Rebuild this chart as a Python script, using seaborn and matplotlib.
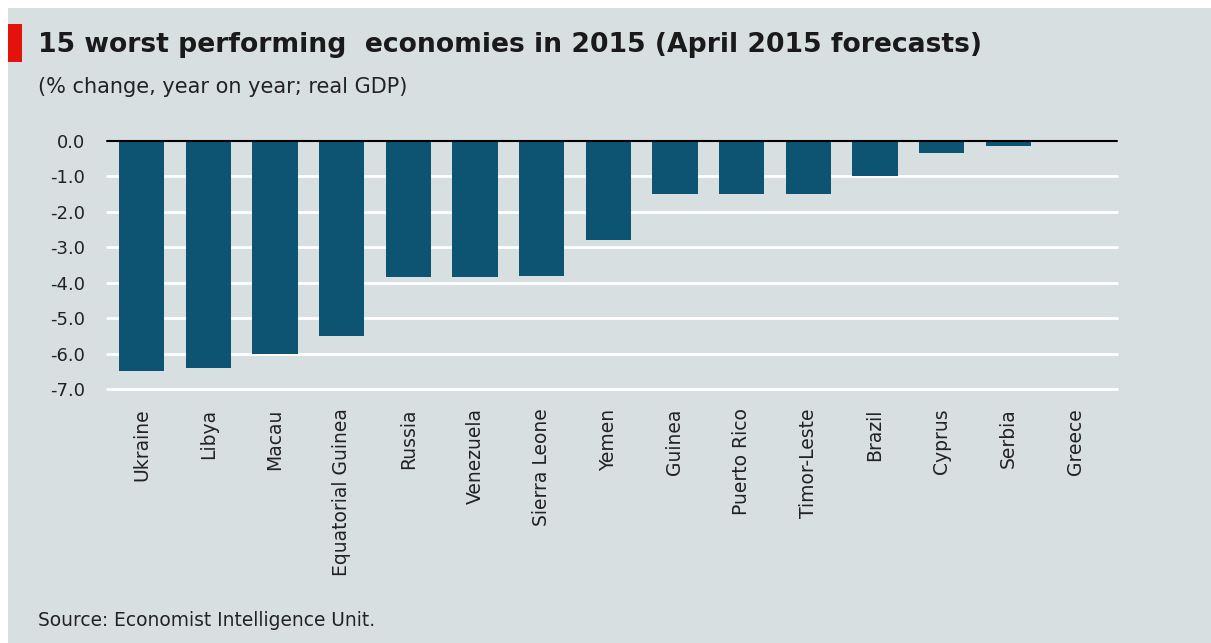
import pandas as pd
import seaborn as sns
import matplotlib.pyplot as plt
from matplotlib.patches import Rectangle

# data
countries = ['Ukraine', 'Libya', 'Macau', 'Equatorial Guinea', 'Russia', 'Venezuela',
             'Sierra Leone', 'Yemen', 'Guinea', 'Puerto Rico', 'Timor-Leste', 'Brazil',
             'Cyprus', 'Serbia', 'Greece']
gdp_change = [-6.5, -6.4, -6.0, -5.5, -3.85, -3.85, -3.8, -2.8, -1.5, -1.5, -1.5, -1.0,
              -0.35, -0.15, 0.0]
yticks = [0, -1, -2, -3, -4, -5, -6, -7]

bg = '#d8dfe0'
bar_color = '#0d5372'

sns.set_theme(style='white')
plt.rcParams['font.family'] = ['DejaVu Sans']

df = pd.DataFrame({'country': countries, 'change': gdp_change})

fig = plt.figure(figsize=(12.11, 6.43), dpi=100)
fig.patch.set_facecolor('white')
# grey panel
fig.patches.append(Rectangle((8 / 1211, 0), 1 - 8 / 1211, 1 - 8 / 643,
                             transform=fig.transFigure, facecolor=bg,
                             edgecolor='none', zorder=-10))
# red marker
fig.patches.append(Rectangle((8 / 1211, 1 - 62 / 643), 14 / 1211, 38 / 643,
                             transform=fig.transFigure, facecolor='#e3120b',
                             edgecolor='none', zorder=-5))

ax = fig.add_axes([107 / 1211, 1 - 389 / 643, 1010 / 1211, 248 / 643])
ax.set_facecolor(bg)

sns.barplot(data=df, x='country', y='change', color=bar_color, width=0.68,
            saturation=1, linewidth=0, ax=ax, zorder=3)

ax.set_ylim(-7, 0)
ax.set_xlim(-0.52, 14.63)
ax.set_yticks(yticks)
ax.set_yticklabels([f'{v:.1f}' for v in yticks], fontsize=13, color='#222222')
for v in yticks[1:]:
    ax.axhline(v, color='white', lw=2, zorder=1, clip_on=False)
ax.axhline(0, color='black', lw=1.5, zorder=4, clip_on=False)

ax.set_xticks(range(len(countries)))
ax.set_xticklabels(countries, rotation=90, fontsize=13.5, color='#222222', va='top')
ax.tick_params(axis='both', length=0)
ax.tick_params(axis='x', pad=14)
ax.tick_params(axis='y', pad=16)
ax.set_xlabel('')
ax.set_ylabel('')
for s in ax.spines.values():
    s.set_visible(False)

fig.text(38 / 1211, 1 - 45 / 643, '15 worst performing  economies in 2015 (April 2015 forecasts)',
         fontsize=19.2, fontweight='bold', color='#1a1a1a', va='center', ha='left')
fig.text(38 / 1211, 1 - 87 / 643, '(% change, year on year; real GDP)',
         fontsize=15, color='#222222', va='center', ha='left')
fig.text(38 / 1211, 1 - 621 / 643, 'Source: Economist Intelligence Unit.',
         fontsize=13.4, color='#222222', va='center', ha='left')

fig.savefig('out.png', dpi=100, facecolor=fig.get_facecolor())
